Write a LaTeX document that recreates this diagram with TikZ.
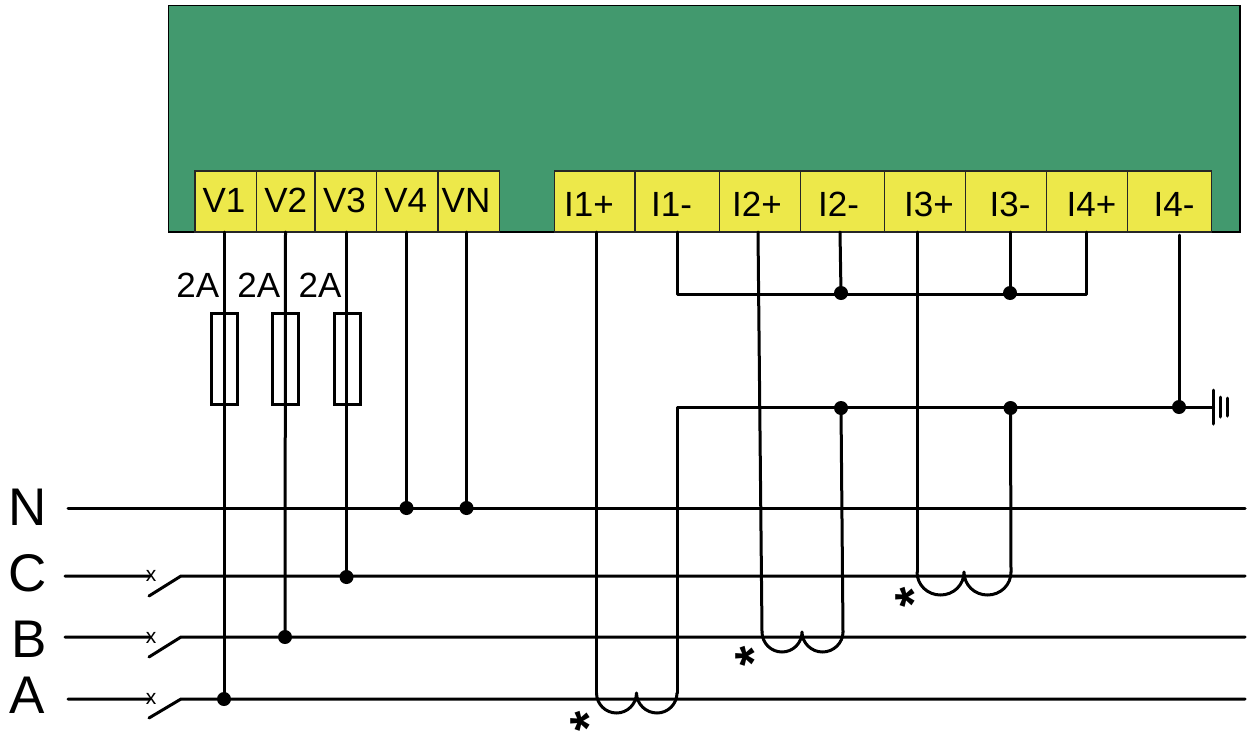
\documentclass[tikz,border=0pt]{standalone}
\usepackage{fontspec}
\setmainfont{Liberation Sans}
\definecolor{bodygreen}{RGB}{66,153,110}
\definecolor{termyellow}{RGB}{237,232,74}
\tikzset{
  wire/.style={line width=3pt,line cap=round,line join=round,draw=black},
  term/.style={draw=black!85,line width=1.2pt,fill=termyellow,minimum height=61pt,inner sep=0pt,outer sep=0pt},
  vlabel/.style={anchor=base,inner sep=0pt,font=\fontsize{35}{38}\selectfont},
  ilabel/.style={anchor=base,inner sep=0pt,font=\fontsize{35}{38}\selectfont},
  fuselabel/.style={anchor=base,inner sep=0pt,font=\fontsize{35}{38}\selectfont},
  phaselabel/.style={anchor=base,inner sep=0pt,font=\fontsize{53}{56}\selectfont},
  fuse/.style={draw=black,line width=3pt,minimum width=26pt,minimum height=91pt,inner sep=0pt,outer sep=0pt},
  dot/.style={circle,fill=black,draw=none,minimum size=14pt,inner sep=0pt,outer sep=0pt},
  xmark/.style={anchor=base,inner sep=0pt,font=\fontsize{21}{23}\selectfont},
  star/.style={anchor=center,rotate=90,inner sep=0pt,font=\fontsize{52}{54}\selectfont\bfseries}
}
\begin{document}
\begin{tikzpicture}[x=1pt,y=-1pt]
\useasboundingbox (0,0) rectangle (1247,731);
\node[draw=black,line width=1.2pt,fill=bodygreen,minimum width=1071.5pt,minimum height=226.5pt,inner sep=0pt,outer sep=0pt] (body) at (704.25,118.75) {};
% terminals: name / left / right / label x / text
\foreach \n/\l/\r/\tx/\t in {
  V1/195/256.5/224/V1, V2/256.5/315/285.8/V2, V3/315/376.5/344.5/V3,
  V4/376.5/438/405.8/V4, VN/438/499.5/466/VN}{
  \pgfmathsetmacro{\w}{\r-\l}
  \pgfmathsetmacro{\c}{(\r+\l)/2}
  \node[term,minimum width=\w pt] (\n) at (\c,201.5) {};
  \node[vlabel] (\n-text) at (\tx,212) {\t};
}
\foreach \n/\l/\r/\tx/\t in {
  Ia/554.5/635/589/I1+, Ib/635/719.5/671.5/I1-, Ic/719.5/800.5/757/I2+,
  Id/800.5/884.5/838.5/I2-, Ie/884.5/965.5/929/I3+, If/965.5/1046.5/1010/I3-,
  Ig/1046.5/1127.5/1091.5/I4+, Ih/1127.5/1211.5/1174/I4-}{
  \pgfmathsetmacro{\w}{\r-\l}
  \pgfmathsetmacro{\c}{(\r+\l)/2}
  \node[term,minimum width=\w pt] (\n) at (\c,201.5) {};
  \node[ilabel] (\n-text) at (\tx,216) {\t};
}
% fuses
\node[fuse] (F1) at (224,358.5) {};
\node[fuse] (F2) at (285.5,358.5) {};
\node[fuse] (F3) at (347,358.5) {};
\node[fuselabel] (L1) at (197.8,297) {2A};
\node[fuselabel] (L2) at (258.7,297) {2A};
\node[fuselabel] (L3) at (320,297) {2A};
% phase labels
\node[phaselabel] (lN) at (27.5,525) {N};
\node[phaselabel] (lC) at (27.5,591) {C};
\node[phaselabel] (lB) at (29,657) {B};
\node[phaselabel] (lA) at (27.5,713) {A};
% coordinates
\coordinate (Nl) at (68,508); \coordinate (Nr) at (1245,508);
\coordinate (Cl) at (65,576); \coordinate (Cs) at (150,576); \coordinate (Co) at (149,596); \coordinate (Ch) at (181,576); \coordinate (Cr) at (1245,576);
\coordinate (Bl) at (65,637); \coordinate (Bs) at (150,637); \coordinate (Bo) at (149,657); \coordinate (Bh) at (181,637); \coordinate (Br) at (1245,637);
\coordinate (Al) at (68,699); \coordinate (As) at (150,699); \coordinate (Ao) at (149,718); \coordinate (Ah) at (181,699); \coordinate (Ar) at (1245,699);
\node[xmark] (xC) at (151,581.5) {x};
\node[xmark] (xB) at (151,643) {x};
\node[xmark] (xA) at (151,704.5) {x};
% junctions
\node[dot] (jV1) at (224,699) {};
\node[dot] (jV2) at (285,637) {};
\node[dot] (jV3) at (346.5,577) {};
\node[dot] (jV4) at (406.5,508) {};
\node[dot] (jVN) at (466.5,508) {};
\node[dot] (jA) at (841,293) {};
\node[dot] (jB) at (1010,293) {};
\node[dot] (jC) at (841,408) {};
\node[dot] (jD) at (1010.5,408) {};
\node[dot] (jE) at (1179,407) {};
% lines
\draw[wire] (Nl) -- (Nr);
\draw[wire] (Cl) -- (Cs) (Co) -- (Ch) -- (Cr);
\draw[wire] (Bl) -- (Bs) (Bo) -- (Bh) -- (Br);
\draw[wire] (Al) -- (As) (Ao) -- (Ah) -- (Ar);
\draw[wire] (224,232) -- (jV1.center);
\draw[wire] (285.5,232) -- (jV2.center);
\draw[wire] (346.5,232) -- (jV3.center);
\draw[wire] (406.5,232) -- (jV4.center);
\draw[wire] (466.5,232) -- (jVN.center);
% coils
\coordinate (a1) at (596.5,693); \coordinate (a2) at (616.5,713); \coordinate (a3) at (636.5,693); \coordinate (a4) at (657,713); \coordinate (a5) at (677,693);
\coordinate (b1) at (762,632); \coordinate (b2) at (782,652); \coordinate (b3) at (802,632); \coordinate (b4) at (822.5,652); \coordinate (b5) at (843,632);
\coordinate (c1) at (917,572); \coordinate (c2) at (940.5,595); \coordinate (c3) at (964,572); \coordinate (c4) at (987.5,595); \coordinate (c5) at (1011,572);
\draw[wire] (a1) .. controls +(0,11) and +(-11,0) .. (a2) .. controls +(11,0) and +(0,11) .. (a3) .. controls +(0,11) and +(-11,0) .. (a4) .. controls +(11,0) and +(0,11) .. (a5);
\draw[wire] (b1) .. controls +(0,11) and +(-11,0) .. (b2) .. controls +(11,0) and +(0,11) .. (b3) .. controls +(0,11) and +(-11,0) .. (b4) .. controls +(11,0) and +(0,11) .. (b5);
\draw[wire] (c1) .. controls +(0,13) and +(-13,0) .. (c2) .. controls +(13,0) and +(0,13) .. (c3) .. controls +(0,13) and +(-13,0) .. (c4) .. controls +(13,0) and +(0,13) .. (c5);
\coordinate (gnd) at (1213.5,407);
\draw[wire] (596.5,232) -- (a1);
\draw[wire] (758,232) -- (b1);
\draw[wire] (917,232) -- (c1);
\draw[wire] (a5) -- (677,407) -- (gnd);
\draw[wire] (jC.center) -- (b5);
\draw[wire] (jD.center) -- (c5);
\draw[wire] (677,232) -- (677,294) -- (1086,294) -- (1086,232);
\draw[wire] (840,232) -- (jA.center);
\draw[wire] (1010,232) -- (jB.center);
\draw[wire] (1179,235) -- (jE.center);
% earth
\draw[wire] (1213.5,390) -- (1213.5,424);
\draw[wire] (1220,397) -- (1220,417);
\draw[wire] (1227,398) -- (1227,416);
% asterisks
\node[star] (s1) at (588.5,721) {*};
\node[star] (s2) at (754,656) {*};
\node[star] (s3) at (914,597.5) {*};
\end{tikzpicture}
\end{document}
